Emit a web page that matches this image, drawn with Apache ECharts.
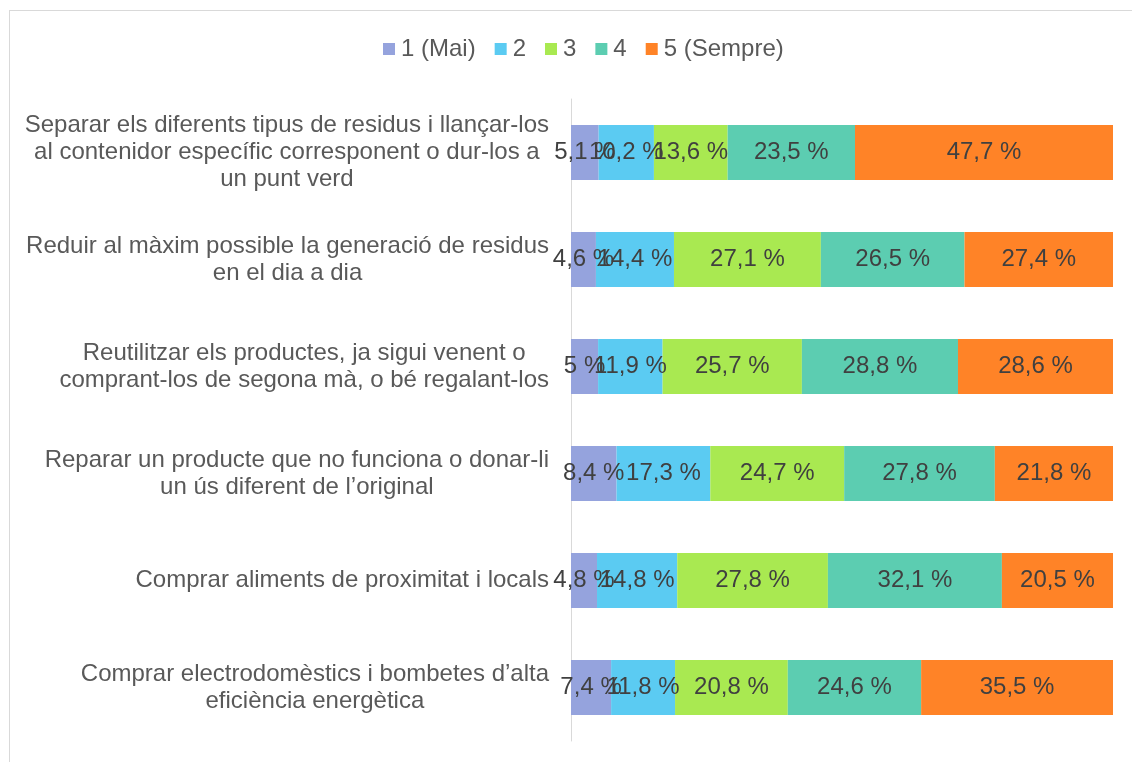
<!DOCTYPE html>
<html>
<head>
<meta charset="utf-8">
<script src="https://cdn.jsdelivr.net/npm/echarts@6/dist/echarts.min.js"></script>
<style>
  html, body { margin: 0; padding: 0; background: #fff; }
  #frame { position: absolute; left: 9px; top: 10px; width: 1200px; height: 800px;
           border-left: 1px solid #d9d9d9; border-top: 1px solid #d9d9d9; box-sizing: border-box; }
  #chart { position: absolute; left: 0; top: 0; width: 1132px; height: 762px; }
</style>
</head>
<body>
<div id="frame"></div>
<div id="chart"></div>
<script>
// Actions, top to bottom
const categories = [
  "Separar els diferents tipus de residus i llançar-los\nal contenidor específic corresponent o dur-los a\nun punt verd",
  "Reduir al màxim possible la generació de residus\nen el dia a dia",
  "Reutilitzar els productes, ja sigui venent o\ncomprant-los de segona mà, o bé regalant-los",
  "Reparar un producte que no funciona o donar-li\nun ús diferent de l’original",
  "Comprar aliments de proximitat i locals",
  "Comprar electrodomèstics i bombetes d’alta\neficiència energètica"
];

// Answer frequency (percent of respondents)
const seriesNames = ["1 (Mai)", "2", "3", "4", "5 (Sempre)"];
const mai     = [5.1, 4.6, 5.0, 8.4, 4.8, 7.4];
const dos     = [10.2, 14.4, 11.9, 17.3, 14.8, 11.8];
const tres    = [13.6, 27.1, 25.7, 24.7, 27.8, 20.8];
const quatre  = [23.5, 26.5, 28.8, 27.8, 32.1, 24.6];
const sempre  = [47.7, 27.4, 28.6, 21.8, 20.5, 35.5];

const colors = ["#95A3DD", "#5BCBF2", "#A9E951", "#5CCDB1", "#FF8327"];
const FONT = "'Liberation Sans', Arial, sans-serif";

const seriesData = [mai, dos, tres, quatre, sempre];

const chart = echarts.init(document.getElementById('chart'), null, { renderer: 'canvas' });

chart.setOption({
  animation: false,
  backgroundColor: 'transparent',
  color: colors,
  textStyle: { fontFamily: FONT },
  legend: {
    top: 32,
    left: 378,
    itemWidth: 12,
    itemHeight: 12,
    itemGap: 19,
    icon: 'rect',
    textStyle: { fontSize: 24, color: '#595959', fontFamily: FONT, padding: [0, 0, 0, 1] },
    data: seriesNames
  },
  grid: { left: 571, right: 19, top: 99, bottom: 21, containLabel: false },
  xAxis: {
    type: 'value', min: 0, max: 100, show: false
  },
  yAxis: {
    type: 'category',
    inverse: true,
    data: categories,
    axisLine: { show: true, lineStyle: { color: '#d9d9d9', width: 1 } },
    axisTick: { show: false },
    axisLabel: {
      margin: 22,
      formatter: function (v) {
        return v.split('\n').map(function (l) { return '{c|' + l + '}'; }).join('\n');
      },
      rich: {
        c: { align: 'center', fontSize: 24, lineHeight: 27, color: '#595959', fontFamily: FONT }
      }
    }
  },
  series: seriesNames.map(function (name, i) {
    return {
      name: name,
      type: 'bar',
      stack: 'total',
      barCategoryGap: '48.6%',
      data: seriesData[i],
      itemStyle: { color: colors[i] },
      label: {
        show: true,
        position: 'inside',
        fontSize: 24,
        color: '#404040',
        fontFamily: FONT,
        formatter: function (p) { return String(p.value).replace('.', ',') + ' %'; }
      }
    };
  })
});
</script>
</body>
</html>
